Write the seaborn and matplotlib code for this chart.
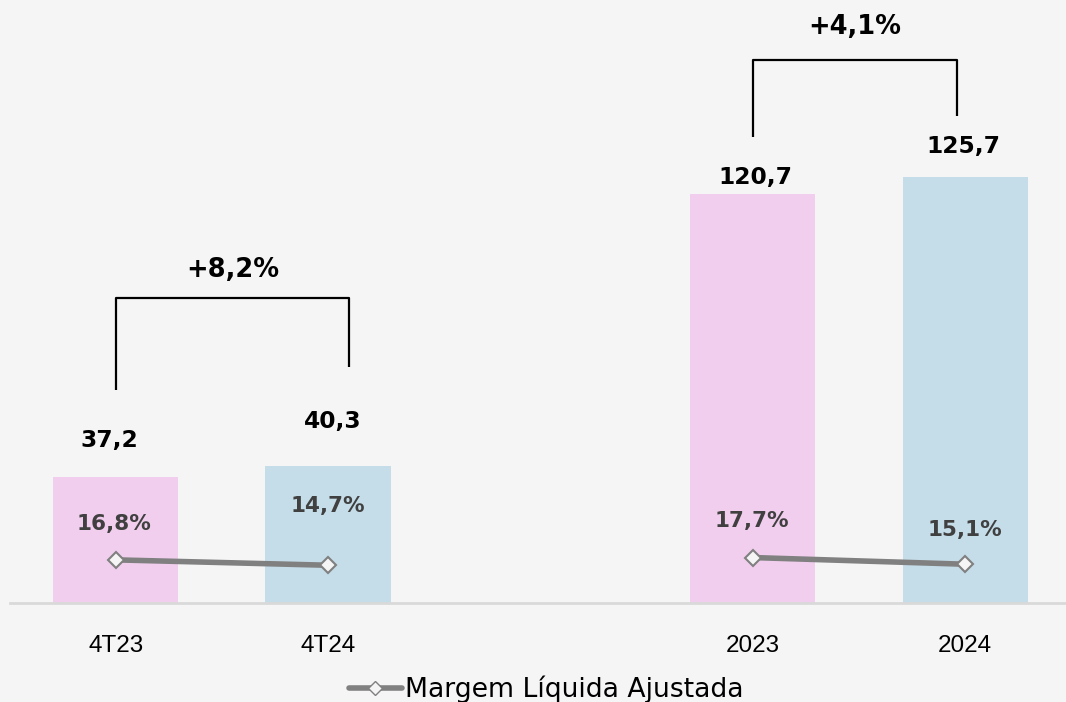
import numpy as np
import pandas as pd
import matplotlib
matplotlib.use('Agg')
import matplotlib.pyplot as plt
from matplotlib.lines import Line2D
import seaborn as sns

# Data
periodos = ['4T23', '4T24', '2023', '2024']
grupos = ['tri', 'tri', 'ano', 'ano']
lucro = [37.2, 40.3, 120.7, 125.7]
margem = [16.8, 14.7, 17.7, 15.1]
lucro_labels = ['37,2', '40,3', '120,7', '125,7']
margem_labels = ['16,8%', '14,7%', '17,7%', '15,1%']
variacao_labels = ['+8,2%', '+4,1%']
ordem = ['4T23', '4T24', ' ', '2023', '2024']
cores = {'4T23': '#F2CEEE', '4T24': '#C5DCE9', '2023': '#F2CEEE', '2024': '#C5DCE9'}

BG = '#F5F5F5'
GRAY = '#808080'

df = pd.DataFrame({'periodo': periodos, 'grupo': grupos, 'lucro': lucro, 'margem': margem})
df['pos'] = [ordem.index(p) for p in df['periodo']]

sns.set_theme(style='white')
plt.rcParams['font.family'] = ['DejaVu Sans']

fig = plt.figure(figsize=(10.66, 7.02), dpi=100, facecolor=BG)
ax = fig.add_axes([0.009, 0.141, 0.996, 0.849])
ax.set_facecolor(BG)

sns.barplot(data=df, x='periodo', y='lucro', hue='periodo', order=ordem, palette=cores,
            width=0.59, saturation=1, legend=False, linewidth=0, edgecolor='none', ax=ax)
ax.set_xlim(-0.5, 4.5)
ax.set_ylim(0, 175.8)
ax.set_xlabel('')
ax.set_ylabel('')
ax.set_yticks([])
for s in ['top', 'right', 'left']:
    ax.spines[s].set_visible(False)
ax.spines['bottom'].set_color('#D9D9D9')
ax.spines['bottom'].set_linewidth(2)
ax.tick_params(axis='x', length=0, pad=23, labelcolor='black')
for t in ax.get_xticklabels():
    t.set_fontfamily('Liberation Sans')
    t.set_fontsize(17.5)

# value labels above the bars (offsets in points)
lab_off = [(-5, 26), (3, 32), (2, 12), (-1, 22)]
for (i, row), txt, off in zip(df.iterrows(), lucro_labels, lab_off):
    ax.annotate(txt, (row['pos'], row['lucro']), xytext=off, textcoords='offset points',
                ha='center', va='center', fontsize=16.8, fontweight='bold', color='black')

# brackets with growth
brackets = [
    dict(x0=0, x1=1.1, yl=62.8, yr=69.6, top=90.0, tx=0.55, ty=98.2),
    dict(x0=3, x1=3.96, yl=137.5, yr=143.7, top=160.2, tx=3.48, ty=169.9),
]
for b, txt in zip(brackets, variacao_labels):
    ax.plot([b['x0'], b['x0'], b['x1'], b['x1']], [b['yl'], b['top'], b['top'], b['yr']],
            color='black', lw=1.6, solid_capstyle='butt')
    ax.text(b['tx'], b['ty'], txt, ha='center', va='center', fontsize=18.5,
            fontweight='bold', color='black')

# margin line on secondary axis
ax2 = ax.twinx()
ax2.set_ylim(0, 232)
ax2.set_yticks([])
for s in ax2.spines.values():
    s.set_visible(False)
sns.lineplot(data=df, x='pos', y='margem', units='grupo', estimator=None, color=GRAY,
             lw=4, marker='D', markersize=8, markerfacecolor=BG, markeredgecolor=GRAY,
             markeredgewidth=1.5, ax=ax2, legend=False)
ax2.set_xlabel('')
ax2.set_ylabel('')
ax.set_xlim(-0.5, 4.5)

pct_off = [(-1, 26), (0, 43), (-1, 26), (0, 25)]
for (i, row), txt, off in zip(df.iterrows(), margem_labels, pct_off):
    ax2.annotate(txt, (row['pos'], row['margem']), xytext=off, textcoords='offset points',
                 ha='center', va='center', fontsize=15.5, fontweight='bold', color='#404040')

handle = Line2D([], [], color=GRAY, lw=4, marker='D', markersize=7,
                markerfacecolor=BG, markeredgecolor=GRAY)
fig.legend(handles=[handle], labels=['Margem Líquida Ajustada'], loc='center',
           bbox_to_anchor=(0.512, 0.018), frameon=False, fontsize=19.2, handlelength=2.0,
           handletextpad=0.1, labelcolor='black')

fig.savefig('out.png', dpi=100, facecolor=BG)
